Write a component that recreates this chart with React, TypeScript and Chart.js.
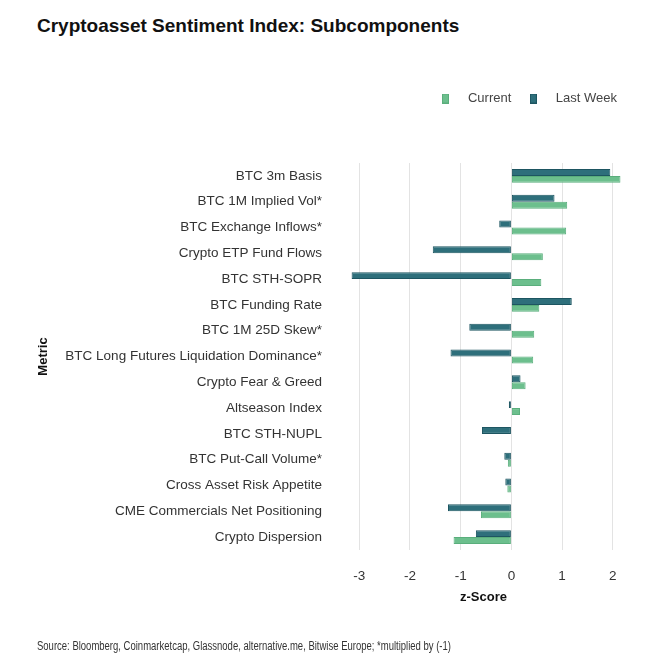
import React, { useEffect, useRef } from "react";
import { Chart, registerables } from "chart.js";

Chart.register(...registerables);

const categories = [
  "BTC 3m Basis",
  "BTC 1M Implied Vol*",
  "BTC Exchange Inflows*",
  "Crypto ETP Fund Flows",
  "BTC STH-SOPR",
  "BTC Funding Rate",
  "BTC 1M 25D Skew*",
  "BTC Long Futures Liquidation Dominance*",
  "Crypto Fear & Greed",
  "Altseason Index",
  "BTC STH-NUPL",
  "BTC Put-Call Volume*",
  "Cross Asset Risk Appetite",
  "CME Commercials Net Positioning",
  "Crypto Dispersion",
];

const currentValues = [2.15, 1.1, 1.08, 0.62, 0.59, 0.55, 0.45, 0.43, 0.28, 0.17, 0.0, -0.07, -0.08, -0.6, -1.14];
const lastWeekValues = [1.95, 0.85, -0.24, -1.55, -3.15, 1.19, -0.83, -1.2, 0.18, -0.05, -0.58, -0.14, -0.12, -1.25, -0.7];

const xTickValues = [-3, -2, -1, 0, 1, 2];

const TITLE = "Cryptoasset Sentiment Index: Subcomponents";
const FOOTER = "Source: Bloomberg, Coinmarketcap, Glassnode, alternative.me, Bitwise Europe; *multiplied by (-1)";

const CURRENT_COLOR = "#6cbf8d";
const CURRENT_BORDER = "#5aae7c";
const LAST_COLOR = "#2e6f7b";
const LAST_BORDER = "#1d5561";
const FONT = "'Liberation Sans', Arial, sans-serif";

function makeSwatch(color: string, border: string): HTMLCanvasElement {
  const c = document.createElement("canvas");
  c.width = 7;
  c.height = 10;
  const ctx = c.getContext("2d")!;
  ctx.fillStyle = color;
  ctx.fillRect(0, 0, 7, 10);
  ctx.strokeStyle = border;
  ctx.lineWidth = 1;
  ctx.strokeRect(0.5, 0.5, 6, 9);
  return c;
}

export default function App() {
  const ref = useRef<HTMLCanvasElement | null>(null);

  useEffect(() => {
    document.body.style.margin = "0";
    const canvas = ref.current!;
    const swatches: Record<string, HTMLCanvasElement> = {
      Current: makeSwatch(CURRENT_COLOR, CURRENT_BORDER),
      "Last Week": makeSwatch(LAST_COLOR, LAST_BORDER),
    };

    const legendGap = {
      id: "legendGap",
      beforeInit(chart: any) {
        const orig = chart.legend.fit;
        chart.legend.fit = function () {
          orig.bind(chart.legend)();
          this.height += 48;
        };
      },
    };

    const chart = new Chart(canvas, {
      type: "bar",
      data: {
        labels: categories,
        datasets: [
          {
            label: "Last Week",
            data: lastWeekValues,
            backgroundColor: LAST_COLOR,
            borderColor: LAST_BORDER,
            borderWidth: 1,
            borderSkipped: false,
            categoryPercentage: 0.54,
            barPercentage: 1,
          },
          {
            label: "Current",
            data: currentValues,
            backgroundColor: CURRENT_COLOR,
            borderColor: CURRENT_BORDER,
            borderWidth: 1,
            borderSkipped: false,
            categoryPercentage: 0.54,
            barPercentage: 1,
          },
        ],
      },
      options: {
        indexAxis: "y",
        animation: false,
        responsive: false,
        devicePixelRatio: 1,
        layout: { padding: { top: 86, right: 48, bottom: 62, left: 32 } },
        plugins: {
          legend: {
            position: "top",
            align: "end",
            reverse: true,
            labels: {
              usePointStyle: true,
              pointStyleWidth: 32,
              boxHeight: 10,
              padding: 6,
              color: "#444",
              font: { family: FONT, size: 13 },
              generateLabels(chart: any) {
                const items = Chart.defaults.plugins.legend.labels.generateLabels(chart);
                items.forEach((it: any) => {
                  it.pointStyle = swatches[it.text];
                });
                return items;
              },
            },
          },
          tooltip: { enabled: false },
        },
        scales: {
          x: {
            type: "linear",
            min: -3.3,
            max: 2.2,
            afterBuildTicks(scale: any) {
              scale.ticks = xTickValues.map((v) => ({ value: v }));
            },
            afterFit(scale: any) {
              scale.height = 59;
            },
            grid: { color: "#e3e3e3", drawTicks: false, lineWidth: 1 },
            border: { display: false },
            ticks: {
              padding: 18,
              color: "#333",
              font: { family: FONT, size: 13.5 },
            },
            title: {
              display: true,
              text: "z-Score",
              color: "#111",
              font: { family: FONT, size: 13, weight: "bold" },
              padding: { top: 6, bottom: 4 },
            },
          },
          y: {
            type: "category",
            grid: { display: false },
            border: { display: false },
            afterFit(scale: any) {
              scale.width = 344 - 32;
            },
            ticks: {
              padding: 14,
              color: "#333",
              font: { family: FONT, size: 13.5 },
            },
            title: {
              display: true,
              text: "Metric",
              color: "#111",
              font: { family: FONT, size: 13, weight: "bold" },
              padding: { top: 4, bottom: 4 },
            },
          },
        },
      },
      plugins: [legendGap],
    } as any);

    return () => chart.destroy();
  }, []);

  return (
    <div style={{ position: "relative", width: 671, height: 671, background: "#fff", fontFamily: FONT }}>
      <div
        style={{
          position: "absolute",
          left: 37,
          top: 15,
          fontSize: 19,
          fontWeight: "bold",
          color: "#111",
          whiteSpace: "nowrap",
          lineHeight: "22px",
        }}
      >
        {TITLE}
      </div>
      <canvas ref={ref} width={671} height={671} style={{ position: "absolute", left: 0, top: 0 }} />
      <div
        style={{
          position: "absolute",
          left: 37,
          top: 638,
          fontSize: 12.5,
          color: "#333",
          whiteSpace: "nowrap",
          lineHeight: "16px",
          transform: "scaleX(0.76)",
          transformOrigin: "left center",
        }}
      >
        {FOOTER}
      </div>
    </div>
  );
}
